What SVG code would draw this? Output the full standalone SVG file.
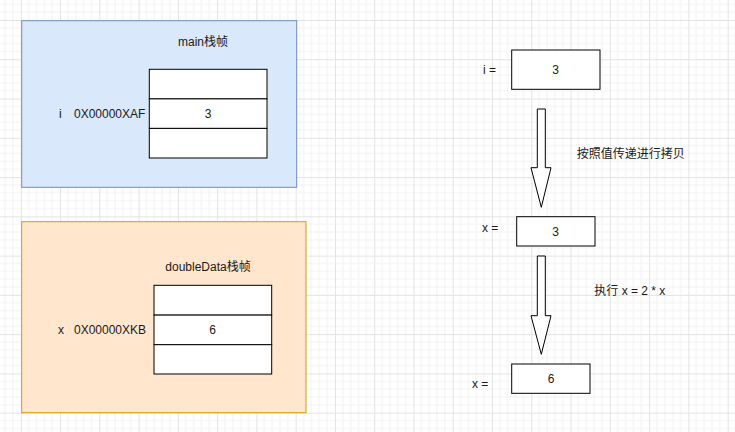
<svg xmlns="http://www.w3.org/2000/svg" width="735" height="432" viewBox="0 0 735 432">
<defs>
<pattern id="grid" patternUnits="userSpaceOnUse" x="20.8" y="20" width="39.27" height="39.27">
<path d="M7.854 0V39.27M15.708 0V39.27M23.562 0V39.27M31.416 0V39.27M0 7.854H39.27M0 15.708H39.27M0 23.562H39.27M0 31.416H39.27" stroke="#f2f2f2" stroke-width="1" fill="none"/>
<path d="M0.5 0V39.27M0 0.5H39.27" stroke="#e3e3e3" stroke-width="1" fill="none"/>
</pattern>
<style>
text{font-family:"Liberation Sans","Noto Sans CJK SC",sans-serif;font-size:12px;fill:#1a1a1a}
.c{text-anchor:middle;dominant-baseline:central}
.l{dominant-baseline:central}
.cell{fill:#fff;stroke:#000;stroke-width:1}
.arrow{fill:#fff;stroke:#000;stroke-width:1;stroke-linejoin:miter}
</style>
</defs>
<rect width="735" height="432" fill="#fff"/>
<rect width="735" height="432" fill="url(#grid)"/>

<g id="main-frame">
<rect x="21.7" y="20.7" width="275" height="166.6" fill="#dae8fc" stroke="#6c8ebf"/>
<text class="c" x="203" y="41.7">main栈帧</text>
</g>
<g id="main-stack">
<rect class="cell" x="149.3" y="69.3" width="117.7" height="29.6"/>
<rect class="cell" x="149.3" y="98.9" width="117.7" height="29.5"/>
<rect class="cell" x="149.3" y="128.4" width="117.7" height="29.6"/>
<text class="c" x="208" y="114">3</text>
<text class="l" x="59" y="114">i</text>
<text class="l" x="74" y="114">0X00000XAF</text>
</g>

<g id="double-frame">
<rect x="21.7" y="221.7" width="284.3" height="191" fill="#ffe6cc" stroke="#d79b00"/>
<text class="c" x="208" y="266.7">doubleData栈帧</text>
</g>
<g id="double-stack">
<rect class="cell" x="154" y="285.3" width="117.7" height="29.8"/>
<rect class="cell" x="154" y="315.1" width="117.7" height="29.6"/>
<rect class="cell" x="154" y="344.7" width="117.7" height="29.3"/>
<text class="c" x="212.5" y="330">6</text>
<text class="l" x="58" y="330">x</text>
<text class="l" x="74" y="330">0X00000XKB</text>
</g>

<g id="box-i">
<rect class="cell" x="511.7" y="50" width="88.3" height="39.3"/>
<text class="c" x="555.5" y="70">3</text>
<text class="l" x="483" y="70">i =</text>
</g>
<g id="box-x1">
<rect class="cell" x="516.7" y="216.7" width="78.3" height="29.3"/>
<text class="c" x="555.5" y="232">3</text>
<text class="l" x="482" y="228">x =</text>
</g>
<g id="box-x2">
<rect class="cell" x="511.7" y="364" width="78.3" height="29.3"/>
<text class="c" x="551" y="379">6</text>
<text class="l" x="472" y="384">x =</text>
</g>

<g id="connectors">
<path class="arrow" d="M537.3 109H545.3V167.7H551L541.3 207.3L531 167.7H537.3Z"/>
<path class="arrow" d="M537.3 256H545.3V315.7H551L541.3 354.3L531 315.7H537.3Z"/>
<text class="l" x="576.7" y="154">按照值传递进行拷贝</text>
<text class="l" x="594.3" y="290.7">执行 x = 2 * x</text>
</g>
</svg>
